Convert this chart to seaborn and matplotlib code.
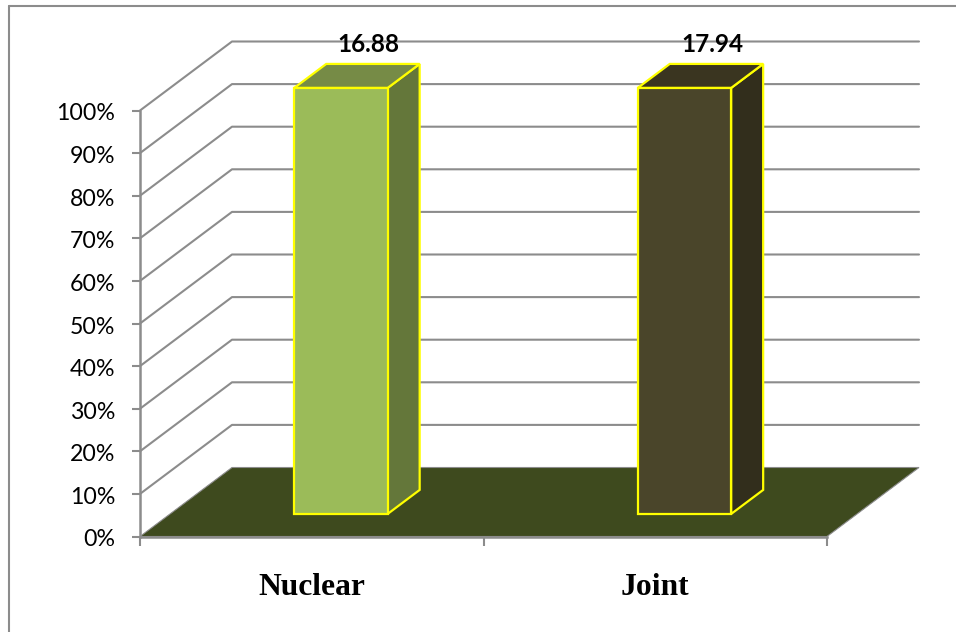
import matplotlib
matplotlib.use("Agg")
import matplotlib.pyplot as plt
from matplotlib.lines import Line2D
from matplotlib.transforms import ScaledTranslation
import pandas as pd
import seaborn as sns

# ---------- Data ----------
family_types = ["Nuclear", "Joint"]
shares = [100, 100]
bar_labels = ["16.88", "17.94"]
y_ticks = [0, 10, 20, 30, 40, 50, 60, 70, 80, 90, 100]

# ---------- Colours ----------
GREY = "#8c8c8c"
FLOOR = "#3e4a1e"
EDGE = "#ffff00"
front_colors = ["#9bbb59", "#4a452a"]
side_colors = ["#64773a", "#322e1c"]
top_colors = ["#768b46", "#3a3520"]

# depth of the fake 3D box, in data units
WALL_DX = 92 / 343.5
WALL_DY = 69 / 4.26
BAR_SHIFT_X = 0.085
BAR_BASE = 5.3
BAR_DX = 32 / 343.5
BAR_DY = 24 / 4.26

sns.set_theme(style="white")
plt.rcParams["font.family"] = ["Lato", "DejaVu Sans"]

df = pd.DataFrame({"family": family_types, "share": shares})

fig = plt.figure(figsize=(9.56, 6.32), dpi=100)
ax = fig.add_axes([140 / 956, (632 - 536.5) / 632, 687 / 956, 426 / 632])

sns.barplot(data=df, x="family", y="share", hue="family", palette=front_colors,
            width=0.272, dodge=False, legend=False, saturation=1,
            edgecolor=EDGE, linewidth=1.6, zorder=5, ax=ax)
bars = list(ax.patches)

ax.set_xlim(-0.5, 1.5)
ax.set_ylim(0, 100)
ax.set_xlabel("")
ax.set_ylabel("")
ax.patch.set_alpha(0)

# back wall and left wall lines
x0, x1 = ax.get_xlim()
for y in y_ticks[1:]:
    ax.plot([x0, x0 + WALL_DX, x1 + WALL_DX], [y, y + WALL_DY, y + WALL_DY],
            color=GREY, lw=1.5, clip_on=False, zorder=1)

# floor
ax.fill([x0, x0 + WALL_DX, x1 + WALL_DX, x1], [0, WALL_DY, WALL_DY, 0],
        facecolor=FLOOR, edgecolor=GREY, lw=0.8, clip_on=False, zorder=2)

# move bars onto the floor and add side + top faces
for i, bar in enumerate(bars):
    bar.set_x(bar.get_x() + BAR_SHIFT_X)
    bar.set_y(BAR_BASE)
    bar.set_clip_on(False)
    left = bar.get_x()
    right = left + bar.get_width()
    bottom = bar.get_y()
    top = bottom + bar.get_height()
    ax.fill([right, right + BAR_DX, right + BAR_DX, right],
            [bottom, bottom + BAR_DY, top + BAR_DY, top],
            facecolor=side_colors[i], edgecolor=EDGE, lw=1.6, clip_on=False, zorder=4)
    ax.fill([left, left + BAR_DX, right + BAR_DX, right],
            [top, top + BAR_DY, top + BAR_DY, top],
            facecolor=top_colors[i], edgecolor=EDGE, lw=1.6, clip_on=False, zorder=4)
    ax.text((left + right) / 2 + BAR_DX * 0.87, 100 + WALL_DY - 0.6, bar_labels[i],
            ha="center", va="center", fontsize=17.5, fontweight="bold", color="black",
            clip_on=False, zorder=6)

# axes styling
sns.despine(ax=ax, top=True, right=True)
for side in ["left", "bottom"]:
    ax.spines[side].set_color(GREY)
    ax.spines[side].set_linewidth(1.8)
    ax.spines[side].set_zorder(3)

ax.set_yticks(y_ticks)
ax.set_yticklabels([f"{y}%" for y in y_ticks])
ax.tick_params(axis="y", left=True, length=6, width=1.5, color=GREY, labelsize=16.7,
               labelcolor="black", pad=12)
# tick labels sit a little below their ticks in the original
for label in ax.get_yticklabels():
    label.set_transform(label.get_transform() + ScaledTranslation(0, -1.5 / 100, fig.dpi_scale_trans))

ax.set_xticks([0, 1])
ax.set_xticklabels(family_types, family="Liberation Serif", fontweight="bold", fontsize=22.7,
                   color="black")
ax.set_xticks([-0.5, 0.5, 1.5], minor=True)
ax.tick_params(axis="x", which="major", bottom=False, pad=20)
ax.tick_params(axis="x", which="minor", bottom=True, length=6.5, width=1.5, color=GREY)

# chart frame, only left and top are inside the crop
fig.add_artist(Line2D([9 / 956, 9 / 956], [0, 1 - 5.5 / 632], color=GREY, lw=1.5))
fig.add_artist(Line2D([9 / 956, 1], [1 - 5.5 / 632, 1 - 5.5 / 632], color=GREY, lw=1.5))

fig.savefig("out.png", dpi=100)
plt.close(fig)
